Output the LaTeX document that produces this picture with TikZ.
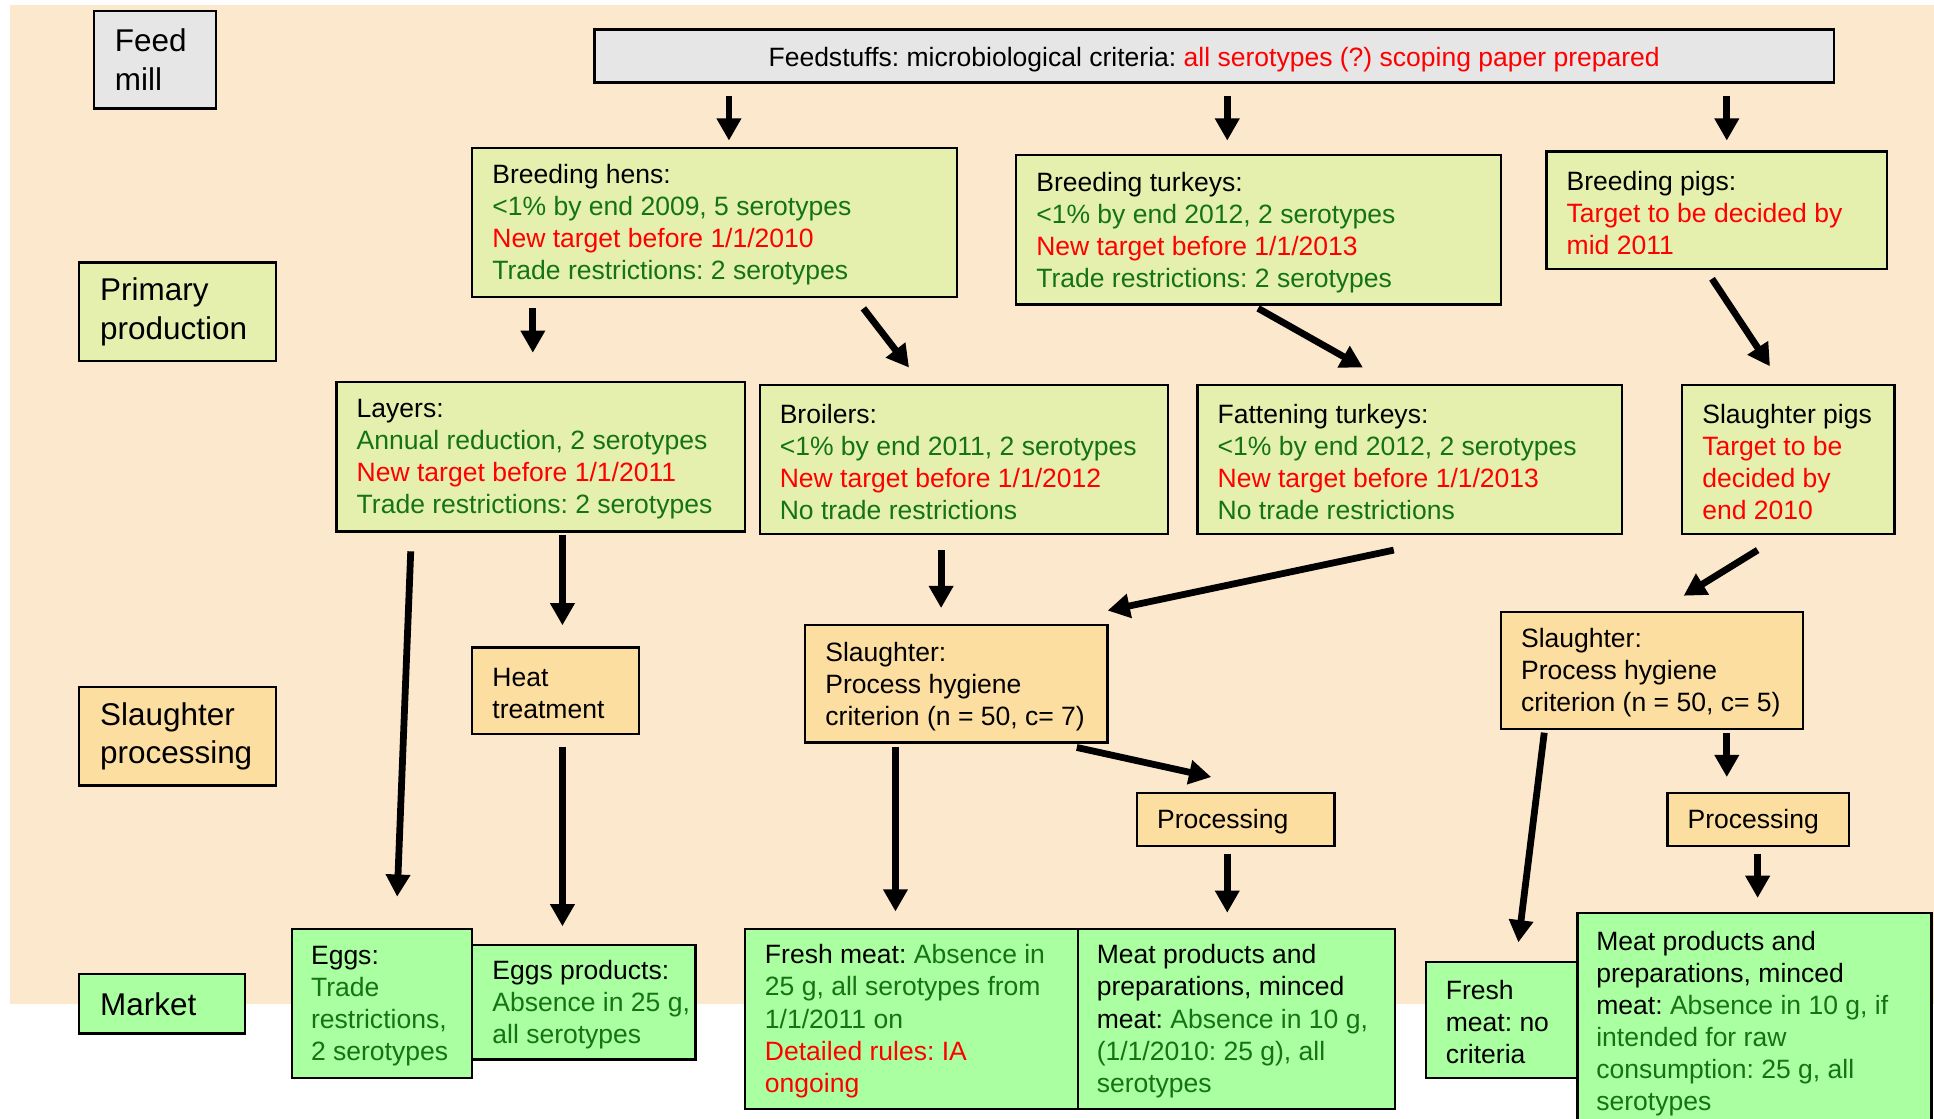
\documentclass[tikz,border=0pt]{standalone}
\usepackage{fontspec}
\setmainfont{Liberation Sans}
\usetikzlibrary{arrows.meta}
\definecolor{peach}{RGB}{252,232,204}
\definecolor{gbox}{RGB}{230,230,230}
\definecolor{ybox}{RGB}{229,240,175}
\definecolor{obox}{RGB}{252,222,160}
\definecolor{mbox}{RGB}{170,255,160}
\definecolor{tgreen}{RGB}{20,115,20}
\definecolor{tred}{RGB}{255,0,0}
\newcommand{\G}[1]{\textcolor{tgreen}{#1}}
\newcommand{\R}[1]{\textcolor{tred}{#1}}
\frenchspacing
\begin{document}
\begin{tikzpicture}[x=1pt,y=-1pt,
  box/.style={draw=black, line width=1.8pt, rectangle, inner sep=0pt, anchor=north west},
  txt/.style={anchor=west, align=left, inner sep=0pt, yshift=-2pt,
    font=\fontsize{21.5}{26}\selectfont},
  labtxt/.style={anchor=west, align=left, inner sep=0pt,
    font=\fontsize{25.5}{31}\selectfont},
  arr/.style={line width=5.5pt, -{Triangle[length=18pt,width=19pt]}}]
\useasboundingbox (0,0) rectangle (1568,907);
\fill[peach] (8,4) rectangle (1568,814);

% row labels
\node[box, fill=gbox, minimum width=99pt, minimum height=79pt] (feedmill) at (75,8) {};
\node[labtxt] (feedmill-t) at ([xshift=18pt]feedmill.west) {Feed\\mill};
\node[box, fill=ybox, minimum width=160pt, minimum height=80pt] (primary) at (63,212) {};
\node[labtxt] (primary-t) at ([xshift=18pt]primary.west) {Primary\\production};
\node[box, fill=obox, minimum width=160pt, minimum height=80pt] (slproc) at (63,556) {};
\node[labtxt] (slproc-t) at ([xshift=18pt]slproc.west) {Slaughter\\processing};
\node[box, fill=mbox, minimum width=135pt, minimum height=48pt] (market) at (63,789) {};
\node[labtxt] (market-t) at ([xshift=18pt]market.west) {Market};

% feed
\node[box, fill=gbox, minimum width=1005pt, minimum height=43pt] (feed) at (481,23) {};
\node[txt, anchor=center] (feed-t) at ([yshift=-1pt]feed.center)
  {Feedstuffs: microbiological criteria: \R{all serotypes (?) scoping paper prepared}};

% primary production
\node[box, fill=ybox, minimum width=393pt, minimum height=121pt] (hens) at (382,119) {};
\node[txt] (hens-t) at ([xshift=17pt]hens.west)
  {Breeding hens:\\\G{<1\% by end 2009, 5 serotypes}\\\R{New target before 1/1/2010}\\\G{Trade restrictions: 2 serotypes}};
\node[box, fill=ybox, minimum width=393pt, minimum height=121pt] (bturk) at (823,125) {};
\node[txt] (bturk-t) at ([xshift=17pt]bturk.west)
  {Breeding turkeys:\\\G{<1\% by end 2012, 2 serotypes}\\\R{New target before 1/1/2013}\\\G{Trade restrictions: 2 serotypes}};
\node[box, fill=ybox, minimum width=276pt, minimum height=95pt] (bpigs) at (1253,122) {};
\node[txt] (bpigs-t) at ([xshift=17pt]bpigs.west)
  {Breeding pigs:\\\R{Target to be decided by}\\\R{mid 2011}};
\node[box, fill=ybox, minimum width=331pt, minimum height=121pt] (layers) at (272,309) {};
\node[txt] (layers-t) at ([xshift=17pt]layers.west)
  {Layers:\\\G{Annual reduction, 2 serotypes}\\\R{New target before 1/1/2011}\\\G{Trade restrictions: 2 serotypes}};
\node[box, fill=ybox, minimum width=331pt, minimum height=121pt] (broilers) at (615,311) {};
\node[txt] (broilers-t) at ([xshift=17pt]broilers.west)
  {Broilers:\\\G{<1\% by end 2011, 2 serotypes}\\\R{New target before 1/1/2012}\\\G{No trade restrictions}};
\node[box, fill=ybox, minimum width=344pt, minimum height=121pt] (fturk) at (970,311) {};
\node[txt] (fturk-t) at ([xshift=17pt]fturk.west)
  {Fattening turkeys:\\\G{<1\% by end 2012, 2 serotypes}\\\R{New target before 1/1/2013}\\\G{No trade restrictions}};
\node[box, fill=ybox, minimum width=172pt, minimum height=121pt] (spigs) at (1363,311) {};
\node[txt] (spigs-t) at ([xshift=17pt]spigs.west)
  {Slaughter pigs\\\R{Target to be}\\\R{decided by}\\\R{end 2010}};

% slaughter / processing
\node[box, fill=obox, minimum width=135pt, minimum height=70pt] (heat) at (382,524) {};
\node[txt] (heat-t) at ([xshift=17pt]heat.west) {Heat\\treatment};
\node[box, fill=obox, minimum width=245pt, minimum height=95pt] (slpoul) at (652,506) {};
\node[txt] (slpoul-t) at ([xshift=17pt]slpoul.west)
  {Slaughter:\\Process hygiene\\criterion (n = 50, c= 7)};
\node[box, fill=obox, minimum width=245pt, minimum height=95pt] (slpig) at (1216,495) {};
\node[txt] (slpig-t) at ([xshift=17pt]slpig.west)
  {Slaughter:\\Process hygiene\\criterion (n = 50, c= 5)};
\node[box, fill=obox, minimum width=160pt, minimum height=43pt] (procA) at (921,642) {};
\node[txt] (procA-t) at ([xshift=17pt]procA.west) {Processing};
\node[box, fill=obox, minimum width=147pt, minimum height=43pt] (procB) at (1351,642) {};
\node[txt] (procB-t) at ([xshift=17pt]procB.west) {Processing};

% market
\node[box, fill=mbox, minimum width=146pt, minimum height=121pt] (eggs) at (236,752) {};
\node[txt] (eggs-t) at ([xshift=16pt]eggs.west)
  {Eggs:\\\G{Trade}\\\G{restrictions,}\\\G{2 serotypes}};
\node[box, fill=mbox, minimum width=181pt, minimum height=93pt] (eggprod) at (382,765) {};
\node[txt] (eggprod-t) at ([xshift=17pt]eggprod.west)
  {Eggs products:\\\G{Absence in 25 g,}\\\G{all serotypes}};
\node[box, fill=mbox, minimum width=270pt, minimum height=146pt] (fmeat) at (603,752) {};
\node[txt] (fmeat-t) at ([xshift=17pt]fmeat.west)
  {Fresh meat: \G{Absence in}\\\G{25 g, all serotypes from}\\\G{1/1/2011 on}\\\R{Detailed rules: IA}\\\R{ongoing}};
\node[box, fill=mbox, minimum width=257pt, minimum height=146pt] (mprod) at (873,752) {};
\node[txt] (mprod-t) at ([xshift=16pt]mprod.west)
  {Meat products and\\preparations, minced\\meat: \G{Absence in 10 g,}\\\G{(1/1/2010: 25 g), all}\\\G{serotypes}};
\node[box, fill=mbox, minimum width=123pt, minimum height=94pt] (fmeatpig) at (1155,779) {};
\node[txt] (fmeatpig-t) at ([xshift=17pt]fmeatpig.west)
  {Fresh\\meat: no\\criteria};
\node[box, fill=mbox, minimum width=287pt, minimum height=176pt] (mprodpig) at (1278,739) {};
\node[txt] (mprodpig-t) at ([xshift=16pt]mprodpig.west)
  {Meat products and\\preparations, minced\\meat: \G{Absence in 10 g, if}\\\G{intended for raw}\\\G{consumption: 25 g, all}\\\G{serotypes}};

% arrow end points
\coordinate (a1) at (591,78);  \coordinate (a2) at (591,114);
\coordinate (b1) at (995,78);  \coordinate (b2) at (995,114);
\coordinate (c1) at (1400,78); \coordinate (c2) at (1400,114);
\coordinate (d1) at (432,250); \coordinate (d2) at (432,286);
\coordinate (e1) at (700,250); \coordinate (e2) at (737,298);
\coordinate (f1) at (1020,250); \coordinate (f2) at (1105,298);
\coordinate (g1) at (1388,226); \coordinate (g2) at (1435,297);
\coordinate (h1) at (333,447); \coordinate (h2) at (322,727);
\coordinate (i1) at (456,434); \coordinate (i2) at (456,507);
\coordinate (j1) at (763,446); \coordinate (j2) at (763,493);
\coordinate (k1) at (1130,446); \coordinate (k2) at (898,495);
\coordinate (l1) at (1425,446); \coordinate (l2) at (1365,483);
\coordinate (m1) at (456,606); \coordinate (m2) at (456,751);
\coordinate (n1) at (726,606); \coordinate (n2) at (726,739);
\coordinate (o1) at (873,606); \coordinate (o2) at (982,630);
\coordinate (p1) at (995,692); \coordinate (p2) at (995,740);
\coordinate (q1) at (1252,594); \coordinate (q2) at (1231,764);
\coordinate (r1) at (1400,594); \coordinate (r2) at (1400,630);
\coordinate (s1) at (1425,692); \coordinate (s2) at (1425,728);

\foreach \p in {a,b,c,d,e,f,g,h,i,j,k,l,m,n,o,p,q,r,s}
  \draw[arr] (\p1) -- (\p2);
\end{tikzpicture}
\end{document}
